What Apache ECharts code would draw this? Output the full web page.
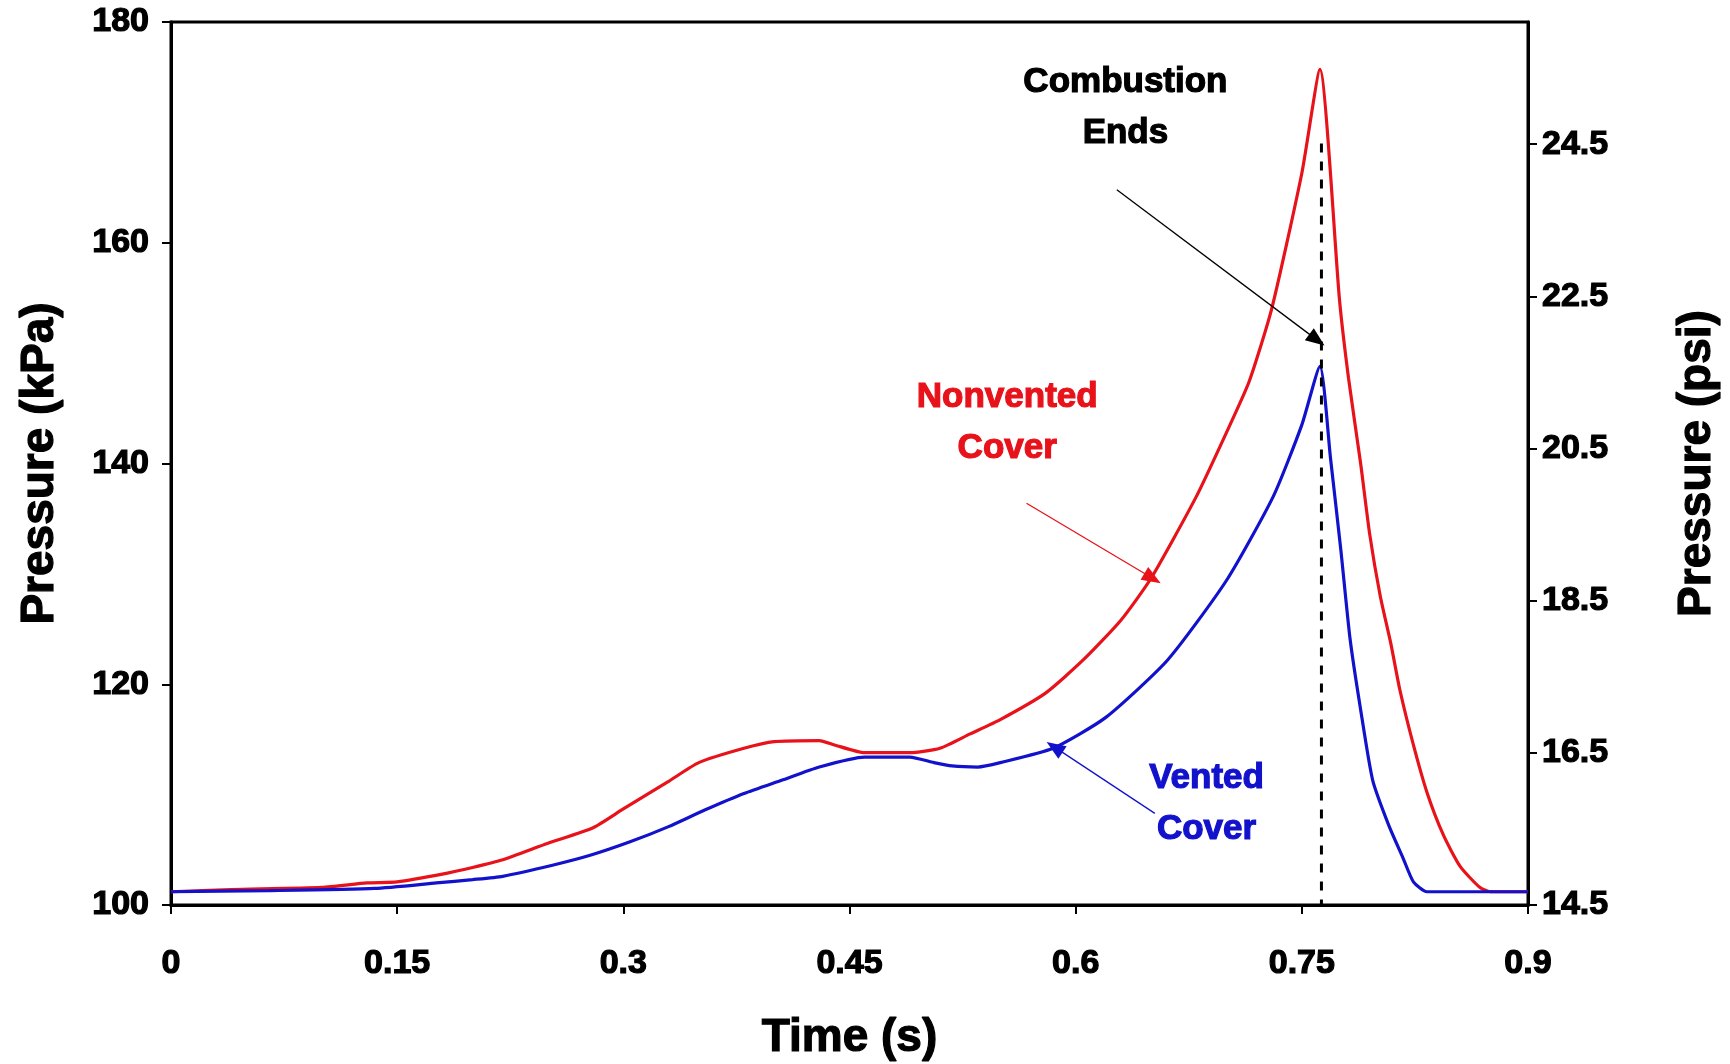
<!DOCTYPE html>
<html>
<head>
<meta charset="utf-8">
<title>Pressure vs Time</title>
<script src="https://cdn.jsdelivr.net/npm/echarts@6/dist/echarts.min.js"></script>
<style>
  html, body { margin: 0; padding: 0; background: #fff; }
  #main { width: 1730px; height: 1064px; }
</style>
</head>
<body>
<div id="main"></div>
<script>
// values: time in s, pressure in kPa
const timeNonvented = [0, 0.04, 0.10, 0.13, 0.15, 0.18, 0.20, 0.22, 0.25, 0.28, 0.30, 0.33, 0.35, 0.38, 0.40,
    0.43, 0.44, 0.46, 0.49, 0.51, 0.53, 0.55, 0.58, 0.605, 0.63, 0.65, 0.68, 0.70, 0.715, 0.73, 0.75, 0.762,
    0.775, 0.781, 0.789, 0.795, 0.802, 0.809, 0.815, 0.824, 0.833, 0.844, 0.855, 0.868, 0.875, 0.9];
const pressureNonvented = [101.2, 101.4, 101.6, 102.0, 102.1, 102.8, 103.4, 104.1, 105.6, 107.0, 108.7, 111.2, 112.9, 114.2, 114.8,
    114.9, 114.5, 113.8, 113.8, 114.2, 115.5, 116.8, 119.2, 122.2, 125.8, 129.6, 137.0, 142.8, 147.4, 154.0, 166.3, 175.7,
    154.8, 147.7, 140.0, 133.6, 128.0, 123.7, 119.5, 114.5, 110.2, 106.3, 103.5, 101.6, 101.2, 101.2];

const timeVented = [0, 0.065, 0.135, 0.176, 0.20, 0.22, 0.253, 0.278, 0.304, 0.33, 0.354, 0.38, 0.405, 0.43, 0.46,
    0.49, 0.506, 0.518, 0.535, 0.55, 0.585, 0.62, 0.661, 0.70, 0.731, 0.75, 0.762, 0.769, 0.776, 0.782, 0.789,
    0.797, 0.808, 0.817, 0.824, 0.833, 0.9];
const pressureVented = [101.2, 101.3, 101.5, 102.0, 102.3, 102.6, 103.6, 104.5, 105.7, 107.1, 108.6, 110.1, 111.3, 112.5, 113.4,
    113.4, 112.9, 112.6, 112.5, 112.9, 114.2, 117.0, 122.2, 129.4, 137.0, 143.5, 148.8, 140.5, 132.0, 124.1, 117.7,
    111.3, 107.1, 104.3, 102.1, 101.2, 101.2];

// end of combustion marker (time, from top of dashes down to the axis)
const combustionEndTime = [0.763, 0.763];
const combustionEndPressure = [169, 100];

const psiTicks = [14.5, 16.5, 18.5, 20.5, 22.5, 24.5];
const KPA_PER_PSI = 6.894757;

const FONT = '"Liberation Sans", Arial, sans-serif';
const RED = '#e8121a';
const BLUE = '#1212cc';

function pairs(xs, ys) {
    return xs.map((x, i) => [x, ys[i]]);
}

function arrow(from, to, color) {
    return {
        silent: true,
        symbol: ['none', 'triangle'],
        symbolSize: [15, 19],
        label: { show: false },
        lineStyle: { color: color, width: 1.3, type: 'solid' },
        itemStyle: { color: color },
        animation: false,
        data: [[{ coord: from }, { coord: to }]]
    };
}

const axisText = {
    color: '#000', fontFamily: FONT, fontWeight: 'bold', fontSize: 34,
    textBorderColor: '#000', textBorderWidth: 1.2
};
const nameText = {
    color: '#000', fontFamily: FONT, fontWeight: 'bold', fontSize: 46,
    textBorderColor: '#000', textBorderWidth: 1.2
};

let options = {
    animation: false,
    backgroundColor: '#fff',
    grid: {
        left: 171, right: 202, top: 22, bottom: 159,
        outerBoundsMode: 'none',
        containLabel: false,
        show: true, borderColor: '#000', borderWidth: 3
    },
    xAxis: {
        type: 'value',
        min: 0, max: 0.9, interval: 0.15,
        name: 'Time (s)',
        nameLocation: 'middle',
        nameGap: 110,
        nameTextStyle: nameText,
        axisLine: { lineStyle: { color: '#000', width: 3 } },
        axisTick: { length: 9, lineStyle: { color: '#000', width: 2 } },
        axisLabel: Object.assign({ margin: 42 }, axisText),
        splitLine: { show: false }
    },
    yAxis: [{
        type: 'value',
        min: 100, max: 180, interval: 20,
        name: 'Pressure (kPa)',
        nameLocation: 'middle',
        nameRotate: 90,
        nameGap: 108,
        nameTextStyle: nameText,
        axisLine: { show: true, lineStyle: { color: '#000', width: 3 } },
        axisTick: { show: true, length: 9, lineStyle: { color: '#000', width: 2 } },
        axisLabel: Object.assign({ margin: 22 }, axisText),
        splitLine: { show: false }
    }, {
        type: 'value',
        position: 'right',
        min: 14.5, max: 180 / KPA_PER_PSI,
        name: 'Pressure (psi)',
        nameLocation: 'middle',
        nameRotate: 90,
        nameGap: 146,
        nameTextStyle: nameText,
        axisLine: { show: true, lineStyle: { color: '#000', width: 3 } },
        axisTick: { show: true, length: 9, customValues: psiTicks, lineStyle: { color: '#000', width: 2 } },
        axisLabel: Object.assign({ margin: 14, customValues: psiTicks, formatter: (v) => v.toFixed(1) }, axisText),
        splitLine: { show: false }
    }],
    series: [{
        name: 'Nonvented Cover',
        type: 'line',
        data: pairs(timeNonvented, pressureNonvented),
        showSymbol: false,
        symbol: 'none',
        smooth: 0.2,
        lineStyle: { color: RED, width: 3.2 },
        z: 3,
        markLine: arrow([0.5674, 136.4], [0.651, 129.6], RED)
    }, {
        name: 'Vented Cover',
        type: 'line',
        data: pairs(timeVented, pressureVented),
        showSymbol: false,
        symbol: 'none',
        smooth: 0.2,
        lineStyle: { color: BLUE, width: 3.2 },
        z: 4,
        markLine: arrow([0.6525, 108.3], [0.586, 114.3], BLUE)
    }, {
        name: 'Combustion Ends',
        type: 'line',
        data: pairs(combustionEndTime, combustionEndPressure),
        showSymbol: false,
        symbol: 'none',
        lineStyle: { color: '#000', width: 3, type: [9, 9] },
        z: 5,
        markLine: arrow([0.6273, 164.8], [0.760, 151.2], '#000')
    }]
};

let myChart = echarts.init(document.getElementById('main'), null, { renderer: 'canvas' });
myChart.setOption(options);

// text labels, placed in data coordinates
const notes = [
    { text: 'Combustion\nEnds', at: [0.633, 172.2], color: '#000' },
    { text: 'Nonvented\nCover', at: [0.5546, 143.7], color: RED },
    { text: 'Vented\nCover', at: [0.6868, 109.2], color: BLUE }
];

myChart.setOption({
    graphic: notes.map((n) => {
        const p = myChart.convertToPixel({ gridIndex: 0 }, n.at);
        return {
            type: 'text',
            x: p[0], y: p[1],
            silent: true,
            style: {
                text: n.text,
                fill: n.color,
                stroke: n.color,
                lineWidth: 1.2,
                fontFamily: FONT,
                fontWeight: 'bold',
                fontSize: 35,
                lineHeight: 51,
                align: 'center',
                verticalAlign: 'middle'
            }
        };
    })
});
</script>
</body>
</html>
